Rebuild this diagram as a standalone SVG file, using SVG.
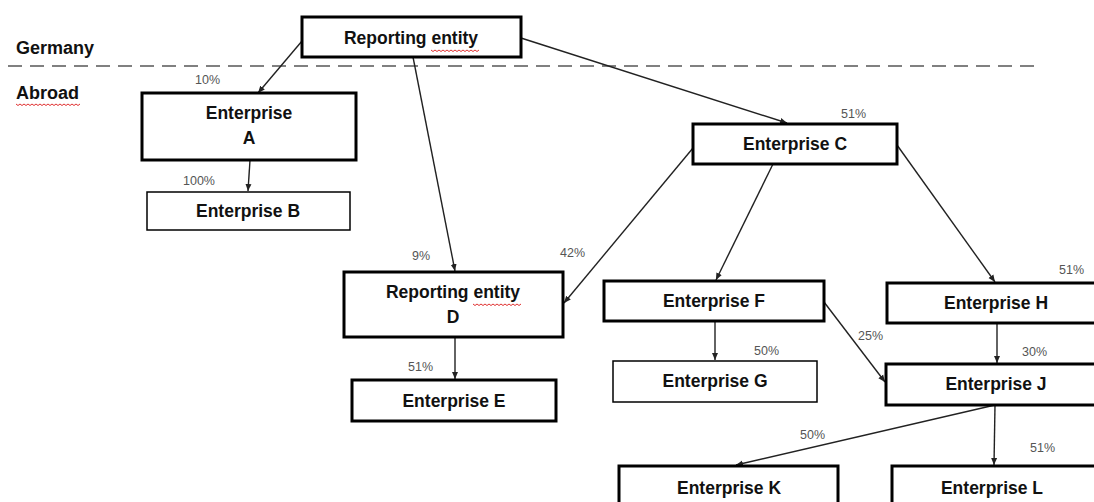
<svg xmlns="http://www.w3.org/2000/svg" width="1094" height="502" viewBox="0 0 1094 502">
<defs>
<style>
.box{fill:#fff;stroke:#000;stroke-width:3}
.thin{fill:#fff;stroke:#000;stroke-width:1.5}
.t{font-family:"Liberation Sans",Arial,sans-serif;font-weight:bold;font-size:17.5px;fill:#111;text-anchor:middle}
.lab{font-family:"Liberation Sans",Arial,sans-serif;font-weight:bold;font-size:18px;fill:#111}
.p{font-family:"Liberation Sans",Arial,sans-serif;font-size:12.5px;fill:#555}
.c{stroke:#222;stroke-width:1.4;fill:none;marker-end:url(#ah)}
.sq{stroke:#e03030;stroke-width:1;fill:none}
</style>
<marker id="ah" markerUnits="userSpaceOnUse" markerWidth="8" markerHeight="8" refX="7" refY="4" orient="auto">
<path d="M0,1 L7,4 L0,7 z" fill="#222"/>
</marker>
</defs>
<rect width="1094" height="502" fill="#fff"/>
<g id="regions">
<text class="lab" x="16" y="54">Germany</text>
<text class="lab" x="16" y="99">Abroad</text>
<path class="sq" d="M16 104 l2 1.5 l2 -1.5 l2 1.5 l2 -1.5 l2 1.5 l2 -1.5 l2 1.5 l2 -1.5 l2 1.5 l2 -1.5 l2 1.5 l2 -1.5 l2 1.5 l2 -1.5 l2 1.5 l2 -1.5 l2 1.5 l2 -1.5 l2 1.5 l2 -1.5 l2 1.5 l2 -1.5 l2 1.5 l2 -1.5 l2 1.5 l2 -1.5 l2 1.5 l2 -1.5 l2 1.5 l2 -1.5 l2 1.5 l2 -1.5"/>
<line x1="8" y1="66" x2="1040" y2="66" stroke="#808080" stroke-width="2" stroke-dasharray="14 8"/>
</g>
<g id="connectors">
<line class="c" x1="302" y1="41" x2="258" y2="93"/>
<line class="c" x1="250" y1="160" x2="248" y2="191"/>
<line class="c" x1="413" y1="57" x2="455" y2="271"/>
<line class="c" x1="521" y1="38" x2="787" y2="123"/>
<line class="c" x1="693" y1="148" x2="564" y2="303"/>
<line class="c" x1="773" y1="164" x2="716" y2="280"/>
<line class="c" x1="897" y1="145" x2="995" y2="282"/>
<line class="c" x1="455" y1="337" x2="455" y2="379"/>
<line class="c" x1="715" y1="321" x2="715" y2="360"/>
<line class="c" x1="824" y1="302" x2="885" y2="382"/>
<line class="c" x1="997" y1="323" x2="997" y2="363"/>
<line class="c" x1="995" y1="405" x2="736" y2="465"/>
<line class="c" x1="995" y1="405" x2="994" y2="465"/>
<text class="p" x="195" y="84">10%</text>
<text class="p" x="183" y="185">100%</text>
<text class="p" x="841" y="118">51%</text>
<text class="p" x="412" y="260">9%</text>
<text class="p" x="560" y="257">42%</text>
<text class="p" x="408" y="371">51%</text>
<text class="p" x="754" y="355">50%</text>
<text class="p" x="858" y="340">25%</text>
<text class="p" x="1059" y="274">51%</text>
<text class="p" x="1022" y="356">30%</text>
<text class="p" x="800" y="439">50%</text>
<text class="p" x="1030" y="452">51%</text>
</g>
<g id="reporting-entity">
<rect class="box" x="302" y="17" width="219" height="40"/>
<text class="t" x="411" y="44">Reporting entity</text>
<path class="sq" d="M431 50 l2 1.5 l2 -1.5 l2 1.5 l2 -1.5 l2 1.5 l2 -1.5 l2 1.5 l2 -1.5 l2 1.5 l2 -1.5 l2 1.5 l2 -1.5 l2 1.5 l2 -1.5 l2 1.5 l2 -1.5 l2 1.5 l2 -1.5 l2 1.5 l2 -1.5 l2 1.5 l2 -1.5 l2 1.5 l2 -1.5"/>
</g>
<g id="enterprise-a">
<rect class="box" x="142" y="93" width="214" height="67"/>
<text class="t" x="249" y="119">Enterprise</text>
<text class="t" x="249" y="144">A</text>
</g>
<g id="enterprise-b">
<rect class="thin" x="147" y="192" width="203" height="38"/>
<text class="t" x="248" y="217">Enterprise B</text>
</g>
<g id="enterprise-c">
<rect class="box" x="693" y="124" width="204" height="40"/>
<text class="t" x="795" y="150">Enterprise C</text>
</g>
<g id="reporting-entity-d">
<rect class="box" x="344" y="272" width="219" height="65"/>
<text class="t" x="453" y="298">Reporting entity</text>
<text class="t" x="453" y="323">D</text>
<path class="sq" d="M473 304 l2 1.5 l2 -1.5 l2 1.5 l2 -1.5 l2 1.5 l2 -1.5 l2 1.5 l2 -1.5 l2 1.5 l2 -1.5 l2 1.5 l2 -1.5 l2 1.5 l2 -1.5 l2 1.5 l2 -1.5 l2 1.5 l2 -1.5 l2 1.5 l2 -1.5 l2 1.5 l2 -1.5 l2 1.5 l2 -1.5"/>
</g>
<g id="enterprise-e">
<rect class="box" x="352" y="380" width="204" height="41"/>
<text class="t" x="454" y="407">Enterprise E</text>
</g>
<g id="enterprise-f">
<rect class="box" x="604" y="281" width="220" height="40"/>
<text class="t" x="714" y="307">Enterprise F</text>
</g>
<g id="enterprise-g">
<rect class="thin" x="613" y="361" width="204" height="41"/>
<text class="t" x="715" y="387">Enterprise G</text>
</g>
<g id="enterprise-h">
<rect class="box" x="887" y="283" width="220" height="40"/>
<text class="t" x="996" y="309">Enterprise H</text>
</g>
<g id="enterprise-j">
<rect class="box" x="886" y="364" width="220" height="41"/>
<text class="t" x="996" y="390">Enterprise J</text>
</g>
<g id="enterprise-k">
<rect class="box" x="619" y="466" width="219" height="50"/>
<text class="t" x="729" y="494">Enterprise K</text>
</g>
<g id="enterprise-l">
<rect class="box" x="892" y="466" width="215" height="50"/>
<text class="t" x="992" y="494">Enterprise L</text>
</g>
</svg>
